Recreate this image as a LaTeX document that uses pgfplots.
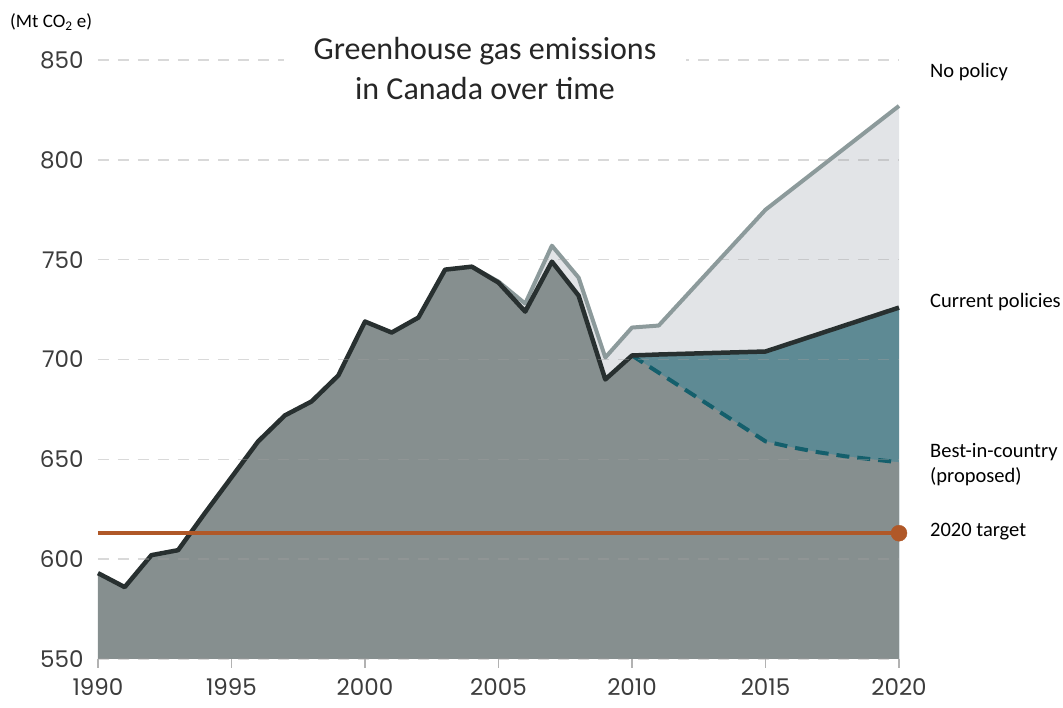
\documentclass[border=0pt]{standalone}
\usepackage{pgfplots}
\pgfplotsset{compat=1.18}
\usepackage{fontspec}
\setmainfont{Carlito}
\newfontfamily\tickfont{Poppins}
\definecolor{histfill}{RGB}{134,143,143}
\definecolor{histline}{RGB}{40,48,48}
\definecolor{nopol}{RGB}{140,154,155}
\definecolor{nopolfill}{RGB}{226,228,231}
\definecolor{tealfill}{RGB}{94,138,148}
\definecolor{dashteal}{RGB}{20,95,108}
\definecolor{target}{RGB}{176,88,40}
\definecolor{gridc}{RGB}{160,160,160}
\definecolor{tickc}{RGB}{60,60,60}
\begin{document}
\begin{tikzpicture}
\useasboundingbox (-98pt,-49pt) rectangle (965pt,659pt);
\begin{axis}[
  at={(0pt,0pt)}, anchor=south west,
  scale only axis, width=801pt, height=599pt,
  xmin=1990, xmax=2020, ymin=550, ymax=850,
  xtick={1990,1995,...,2020},
  ytick={550,600,...,850},
  axis line style={draw=none},
  ymajorgrids,
  grid style={gridc, dash pattern=on 11pt off 9pt, line width=1.6pt, opacity=0.4},
  axis on top,
  tick align=outside,
  xtick pos=left,
  major tick length=9pt,
  xtick style={draw=gray!60, line width=1.5pt},
  ytick style={draw=none},
  ticklabel style={font=\tickfont\fontsize{23}{25}\selectfont, text=tickc},
  /pgf/number format/assume math mode=true,
  x tick label style={/pgf/number format/1000 sep={}, yshift=-7pt},
  y tick label style={xshift=-2pt},
  clip=false,
]
% light fill under no-policy line
\addplot[draw=none, fill=nopolfill] coordinates {
(2004,746.5) (2005,739) (2006,728) (2007,757) (2008,741) (2009,701) (2010,716) (2011,717) (2015,775) (2020,827)
} -- (axis cs:2020,550) -- (axis cs:2004,550) -- cycle;
% teal fill under current policies
\addplot[draw=none, fill=tealfill] coordinates {
(2010,702) (2011,702.5) (2015,704) (2020,726)
} -- (axis cs:2020,550) -- (axis cs:2010,550) -- cycle;
% historical gray area, then best-in-country
\addplot[draw=none, fill=histfill] coordinates {
(1990,593) (1991,586) (1992,602) (1993,604.5) (1994,623) (1995,641) (1996,659) (1997,672) (1998,679) (1999,692)
(2000,719) (2001,713.5) (2002,721) (2003,745) (2004,746.5) (2005,738.5) (2006,724) (2007,749) (2008,732) (2009,690)
(2010,702) (2015,659) (2016,656) (2017,653.5) (2018,651.5) (2019,650) (2020,648.5)
} -- (axis cs:2020,550) -- (axis cs:1990,550) -- cycle;
% no policy line
\addplot[nopol, line width=4pt, line join=round] coordinates {
(2004,746.5) (2005,739) (2006,728) (2007,757) (2008,741) (2009,701) (2010,716) (2011,717) (2015,775) (2020,827)
};
% best-in-country dashed
\addplot[dashteal, line width=4pt, dash pattern=on 13pt off 8pt, line join=round] coordinates {
(2010,702) (2015,659) (2016,656) (2017,653.5) (2018,651.5) (2019,650) (2020,648.5)
};
% historical + current policies
\addplot[histline, line width=4.5pt, line join=round] coordinates {
(1990,593) (1991,586) (1992,602) (1993,604.5) (1994,623) (1995,641) (1996,659) (1997,672) (1998,679) (1999,692)
(2000,719) (2001,713.5) (2002,721) (2003,745) (2004,746.5) (2005,738.5) (2006,724) (2007,749) (2008,732) (2009,690)
(2010,702) (2011,702.5) (2015,704) (2020,726)
};
% 2020 target
\addplot[target, line width=4.5pt] coordinates {(1990,613) (2020,613)};
\addplot[target, only marks, mark=*, mark size=8pt, mark options={fill=target, draw=target}] coordinates {(2020,613)};
\end{axis}
\node[fill=white, inner xsep=30pt, inner ysep=2pt, align=center, font=\fontsize{32}{40}\selectfont, text=black!85] at (387pt,590pt) {Greenhouse gas emissions\\in Canada over time};
\node[anchor=west, font=\fontsize{19}{22}\selectfont, inner sep=0pt] at (-88pt,637pt) {(Mt CO\textsubscript{2} e)};
\begin{scope}[every node/.style={anchor=west, inner sep=0pt, font=\fontsize{20.5}{25}\selectfont}]
\node at (832pt,587pt) {No policy};
\node at (832pt,357pt) {Current policies};
\node[align=left] at (832pt,194pt) {Best-in-country\\(proposed)};
\node at (832pt,127pt) {2020 target};
\end{scope}
\end{tikzpicture}
\end{document}
